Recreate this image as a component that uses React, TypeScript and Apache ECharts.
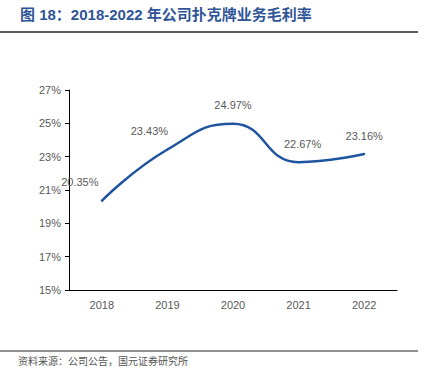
import React, { useEffect, useRef } from "react";
import * as echarts from "echarts";

const categories = ["2018", "2019", "2020", "2021", "2022"];
const margins = [20.35, 23.43, 24.97, 22.67, 23.16];
const yTicks = [15, 17, 19, 21, 23, 25, 27];
const labelShiftX = [-22, -18, 0, 4, 0];

export default function App() {
  const ref = useRef<HTMLDivElement>(null);
  useEffect(() => {
    document.body.style.margin = "0";
    const chart = echarts.init(ref.current!, null, { renderer: "svg" });
    chart.setOption({
      animation: false,
      backgroundColor: "#ffffff",
      graphic: [
        {
          type: "text",
          left: 20,
          top: 7,
          style: {
            text: "图 18：2018-2022 年公司扑克牌业务毛利率",
            fill: "#2f5597",
            font: "bold 15px 'Liberation Sans', 'Noto Sans CJK SC', sans-serif",
          },
        },
        {
          type: "line",
          shape: { x1: 0, y1: 32, x2: 418, y2: 32 },
          style: { stroke: "#222", lineWidth: 1.5 },
        },
        {
          type: "line",
          shape: { x1: 0, y1: 351, x2: 418, y2: 351 },
          style: { stroke: "#222", lineWidth: 1.2 },
        },
        {
          type: "text",
          left: 18,
          top: 355,
          style: {
            text: "资料来源：公司公告，国元证券研究所",
            fill: "#555",
            font: "10px 'Noto Sans CJK SC', sans-serif",
          },
        },
      ],
      grid: { left: 69, right: 29, top: 90, bottom: 84 },
      xAxis: {
        type: "category",
        data: categories,
        boundaryGap: true,
        axisLine: { lineStyle: { color: "#000", width: 1 } },
        axisTick: { inside: true, length: 4, lineStyle: { color: "#000" } },
        axisLabel: {
          color: "#595959",
          fontSize: 11,
          fontFamily: "'Liberation Sans', sans-serif",
          margin: 9,
        },
      },
      yAxis: {
        type: "value",
        min: yTicks[0],
        max: yTicks[yTicks.length - 1],
        interval: 2,
        axisLine: { show: true, lineStyle: { color: "#000", width: 1 } },
        axisTick: { show: true, inside: false, length: 4, lineStyle: { color: "#000" } },
        splitLine: { show: false },
        axisLabel: {
          color: "#595959",
          fontSize: 11,
          fontFamily: "'Liberation Sans', sans-serif",
          formatter: "{value}%",
          margin: 8,
        },
      },
      series: [
        {
          type: "line",
          data: margins.map((v, i) => ({
            value: v,
            label: { offset: [labelShiftX[i], 0] },
          })),
          smooth: true,
          symbol: "circle",
          symbolSize: 2,
          showSymbol: true,
          itemStyle: { color: "#1f54a0" },
          lineStyle: { color: "#1f54a0", width: 2.5 },
          label: {
            show: true,
            position: "top",
            distance: 12,
            color: "#595959",
            fontSize: 11,
            fontFamily: "'Liberation Sans', sans-serif",
            formatter: (p: any) => Number(p.value).toFixed(2) + "%",
          },
        },
      ],
    });
    return () => chart.dispose();
  }, []);
  return <div ref={ref} style={{ width: 426, height: 374 }} />;
}
